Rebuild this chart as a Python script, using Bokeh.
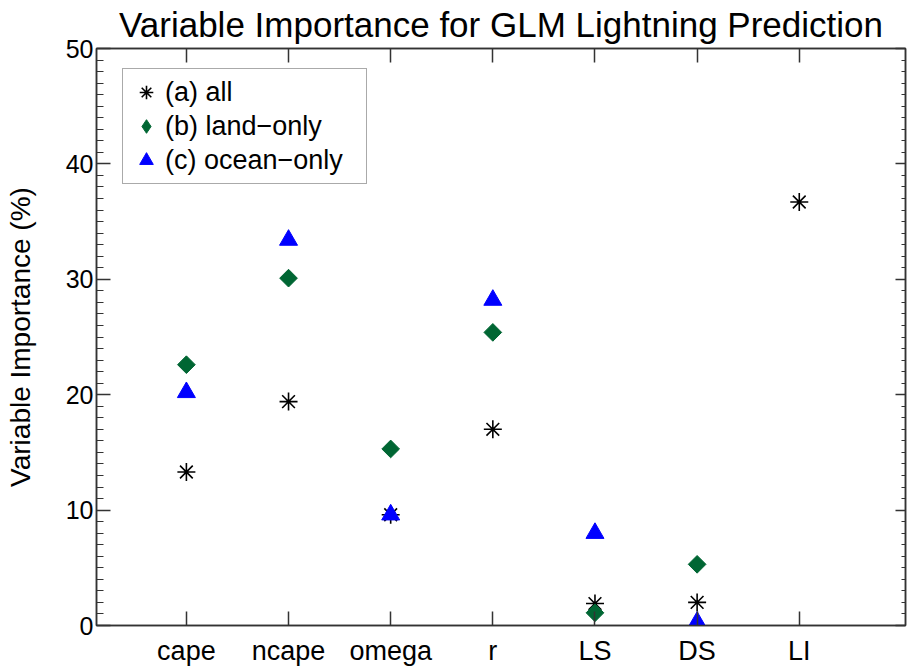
import numpy as np
from bokeh.plotting import figure
from bokeh.models import (Range1d, LinearAxis, FixedTicker, SingleIntervalTicker,
                          Legend, LegendItem)
from bokeh.embed import file_html
from bokeh.resources import INLINE

# ---- data ----
categories = ["cape", "ncape", "omega", "r", "LS", "DS", "LI"]
imp_all = [13.3, 19.4, 9.6, 17.0, 1.9, 2.0, 36.7]          # (a) all
imp_land = [22.6, 30.1, 15.3, 25.4, 1.1, 5.3, np.nan]      # (b) land-only
imp_ocean = [20.2, 33.4, 9.6, 28.2, 8.0, 0.3, np.nan]      # (c) ocean-only

FONT = "Liberation Sans"
GREEN = "#006633"
BLUE = "#0000ff"
AXIS_COL = "#333333"

xpos = list(range(1, len(categories) + 1))

p = figure(width=907, height=669, output_backend="svg", toolbar_location=None,
           x_range=Range1d(0.12, 8.04), y_range=Range1d(0, 50),
           title="Variable Importance for GLM Lightning Prediction",
           min_border_left=96, min_border_right=2, min_border_top=48,
           min_border_bottom=44, background_fill_color="white",
           border_fill_color="white")

p.title.align = "center"
p.title.vertical_align = "top"
p.title.text_font = FONT
p.title.text_font_size = "35px"
p.title.text_font_style = "normal"
p.title.text_color = "black"
p.title.standoff = 6

p.grid.visible = False
p.outline_line_color = AXIS_COL
p.outline_line_width = 1.5

# bottom x axis
xa = p.xaxis[0]
xa.ticker = FixedTicker(ticks=xpos)
xa.major_label_overrides = {x: c for x, c in zip(xpos, categories)}
xa.major_label_text_font = FONT
xa.major_label_text_font_size = "27px"
xa.major_label_text_color = "black"
xa.major_label_standoff = 10
xa.major_tick_in = 14
xa.major_tick_out = 0
xa.minor_tick_line_color = None
xa.axis_line_color = AXIS_COL
xa.axis_line_width = 1.5
xa.major_tick_line_color = AXIS_COL
xa.major_tick_line_width = 1.5

# left y axis
ya = p.yaxis[0]
ya.ticker = SingleIntervalTicker(interval=10, num_minor_ticks=10)
ya.major_label_text_font = FONT
ya.major_label_text_font_size = "25px"
ya.major_label_text_color = "black"
ya.major_label_standoff = 3
ya.major_tick_in = 14
ya.major_tick_out = 0
ya.minor_tick_in = 7
ya.minor_tick_out = 0
ya.axis_line_color = AXIS_COL
ya.axis_line_width = 1.5
ya.major_tick_line_color = AXIS_COL
ya.major_tick_line_width = 1.5
ya.minor_tick_line_color = AXIS_COL
ya.minor_tick_line_width = 1.2
ya.axis_label = "Variable Importance (%)"
ya.axis_label_text_font = FONT
ya.axis_label_text_font_size = "28px"
ya.axis_label_text_font_style = "normal"
ya.axis_label_text_color = "black"
ya.axis_label_standoff = 27

# right y axis (ticks only, no labels drawn)
ra = LinearAxis(ticker=SingleIntervalTicker(interval=10, num_minor_ticks=10),
                major_label_text_font_size="1px", major_label_text_color=None,
                major_label_standoff=0,
                major_tick_in=10, major_tick_out=0, minor_tick_in=4, minor_tick_out=0,
                axis_line_color=AXIS_COL, axis_line_width=1.5,
                major_tick_line_color=AXIS_COL, major_tick_line_width=1.5,
                minor_tick_line_color=AXIS_COL, minor_tick_line_width=1.2)
p.add_layout(ra, "right")

# top x axis (ticks only, no labels drawn)
ta = LinearAxis(ticker=FixedTicker(ticks=xpos),
                major_label_text_font_size="1px", major_label_text_color=None,
                major_label_standoff=0,
                major_tick_in=14, major_tick_out=0,
                minor_tick_line_color=None,
                axis_line_color=AXIS_COL, axis_line_width=1.5,
                major_tick_line_color=AXIS_COL, major_tick_line_width=1.5)
p.add_layout(ta, "above")

# data markers
r_all = p.scatter(xpos, imp_all, marker="asterisk", size=18,
                  line_color="black", line_width=1.6)
r_land = p.scatter(xpos, imp_land, marker="square", angle=np.pi / 4, size=12.5,
                   fill_color=GREEN, line_color=GREEN)
r_ocean = p.scatter(xpos, imp_ocean, marker="triangle", size=18,
                    fill_color=BLUE, line_color=BLUE)
# legend-only proxy (not visible in the plot area) so the legend shows a diamond symbol
proxy_land = p.scatter(x=[np.nan], y=[np.nan], marker="diamond",
                       fill_color=GREEN, line_color=GREEN)

legend = Legend(items=[LegendItem(label="(a) all", renderers=[r_all]),
                       LegendItem(label="(b) land\u2212only", renderers=[proxy_land]),
                       LegendItem(label="(c) ocean\u2212only", renderers=[r_ocean])],
                location=(26, 441), orientation="vertical",
                glyph_width=34, glyph_height=34, label_height=34, label_width=195,
                spacing=0, padding=6, margin=0, label_standoff=2,
                label_text_font=FONT, label_text_font_size="27px",
                label_text_color="black",
                border_line_color="#555555", border_line_width=1.2,
                background_fill_color="white", background_fill_alpha=1.0)
p.add_layout(legend)

open("out.html", "w").write(file_html(p, INLINE))
